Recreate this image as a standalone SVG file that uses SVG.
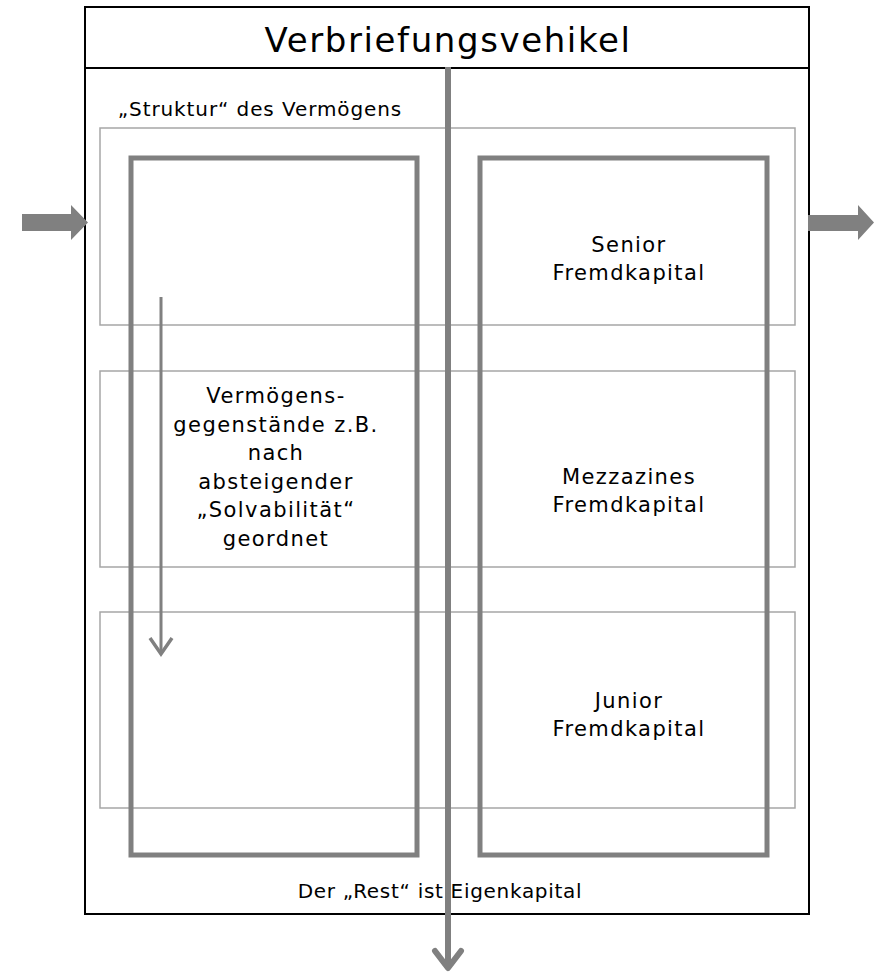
<svg xmlns="http://www.w3.org/2000/svg" width="874" height="973" viewBox="0 0 874 973">
<style>
text{font-family:"DejaVu Sans",sans-serif;fill:#000;text-anchor:middle}
.t{font-size:21px;letter-spacing:1.4px}
.s{font-size:20px;letter-spacing:0.9px}
.thin{fill:none;stroke:#a6a6a6;stroke-width:1.5}
.thick{fill:none;stroke:#808080;stroke-width:5}
.blk{fill:#808080}
</style>
<rect width="874" height="973" fill="#fff"/>
<g id="vehikel">
<rect x="85" y="7" width="724" height="907" fill="none" stroke="#000" stroke-width="2"/>
<line x1="85" y1="68" x2="809" y2="68" stroke="#000" stroke-width="2"/>
<text x="448" y="52" style="font-size:34px;letter-spacing:1.6px">Verbriefungsvehikel</text>
<text x="260" y="116" class="s">„Struktur“ des Vermögens</text>
<text x="440" y="898" class="s" style="letter-spacing:0.7px">Der „Rest“ ist Eigenkapital</text>
</g>
<g id="band1"><rect x="100" y="128" width="695" height="197" class="thin"/></g>
<g id="band2"><rect x="100" y="371" width="695" height="196" class="thin"/></g>
<g id="band3"><rect x="100" y="612" width="695" height="196" class="thin"/></g>
<g id="aktiva">
<rect x="131" y="158" width="286" height="697" class="thick"/>
<text class="t"><tspan x="276" y="403">Vermögens-</tspan><tspan x="276" y="431.5">gegenstände z.B.</tspan><tspan x="276" y="460">nach</tspan><tspan x="276" y="488.5">absteigender</tspan><tspan x="276" y="517">„Solvabilität“</tspan><tspan x="276" y="545.5">geordnet</tspan></text>
</g>
<g id="passiva">
<rect x="480" y="158" width="287" height="697" class="thick"/>
<text class="t"><tspan x="629" y="252">Senior</tspan><tspan x="629" y="280">Fremdkapital</tspan></text>
<text class="t"><tspan x="629" y="484">Mezzazines</tspan><tspan x="629" y="512">Fremdkapital</tspan></text>
<text class="t"><tspan x="629" y="708">Junior</tspan><tspan x="629" y="736">Fremdkapital</tspan></text>
</g>
<g id="connectors">
<polygon class="blk" points="22,214 71,214 71,205 88,222.5 71,240 71,231 22,231"/>
<polygon class="blk" points="808,215 858,215 858,205 874,222.5 858,240 858,231 808,231"/>
<line x1="448" y1="67" x2="448" y2="967" stroke="#808080" stroke-width="6"/>
<polyline points="435,951 448,968 461,951" fill="none" stroke="#808080" stroke-width="6" stroke-linecap="round" stroke-linejoin="round"/>
<line x1="161" y1="297" x2="161" y2="653" stroke="#808080" stroke-width="3"/>
<polyline points="150,638 161,654 172,638" fill="none" stroke="#808080" stroke-width="3.5" stroke-linejoin="miter"/>
</g>
</svg>
